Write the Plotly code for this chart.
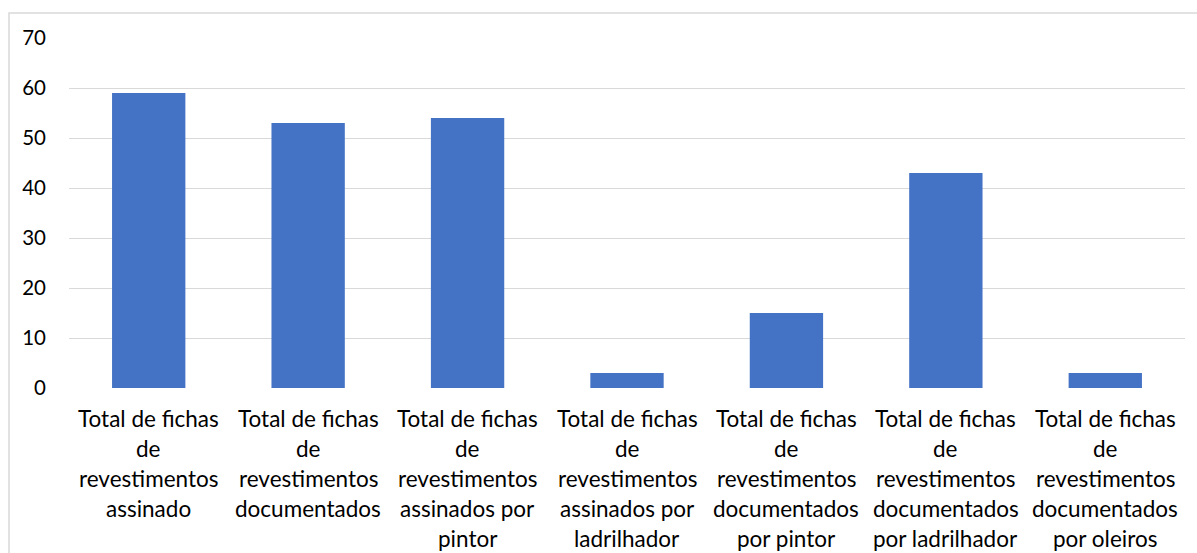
import plotly.graph_objects as go

# Category labels, already broken into the lines shown under each bar
label_lines = [
    ["Total de fichas", "de", "revestimentos", "assinado"],
    ["Total de fichas", "de", "revestimentos", "documentados"],
    ["Total de fichas", "de", "revestimentos", "assinados por", "pintor"],
    ["Total de fichas", "de", "revestimentos", "assinados por", "ladrilhador"],
    ["Total de fichas", "de", "revestimentos", "documentados", "por pintor"],
    ["Total de fichas", "de", "revestimentos", "documentados", "por ladrilhador"],
    ["Total de fichas", "de", "revestimentos", "documentados", "por oleiros"],
]
categories = [" ".join(lines) for lines in label_lines]
values = [59, 53, 54, 3, 15, 43, 3]
y_ticks = [0, 10, 20, 30, 40, 50, 60, 70]

FONT = "Lato, Calibri, Carlito, sans-serif"
W, H = 1197, 553
M_L, M_R, M_T, M_B = 69, 12, 38, 165

fig = go.Figure(
    go.Bar(
        x=categories,
        y=values,
        marker=dict(color="#4472C4", line=dict(width=0)),
        width=0.46,
    )
)

# Multi-line category labels with Office-style line spacing
annotations = []
for cat, lines in zip(categories, label_lines):
    for i, text in enumerate(lines):
        annotations.append(
            dict(
                x=cat, y=0, xref="x", yref="y",
                text=text, showarrow=False,
                yanchor="middle", xanchor="center",
                yshift=-30 - 30 * i,
                font=dict(family=FONT, size=22.5, color="#000000"),
            )
        )

plot_w = W - M_L - M_R
plot_h = H - M_T - M_B

fig.update_layout(
    width=W, height=H,
    margin=dict(l=M_L, r=M_R, t=M_T, b=M_B, pad=0),
    paper_bgcolor="white", plot_bgcolor="white",
    showlegend=False,
    annotations=annotations,
    shapes=[
        # light chart-area frame
        dict(
            type="rect", xref="paper", yref="paper", layer="below",
            x0=(9 - M_L) / plot_w, x1=(W + 20 - M_L) / plot_w,
            y0=-(H + 20 - M_T - plot_h) / plot_h, y1=1 + (M_T - 13) / plot_h,
            line=dict(color="#d9d9d9", width=1.5), fillcolor="rgba(0,0,0,0)",
        )
    ],
)
fig.update_xaxes(
    showticklabels=False, showgrid=False, zeroline=False, showline=False,
    range=[-0.5, len(categories) - 0.5],
)
fig.update_yaxes(
    range=[0, 70], tickvals=y_ticks,
    showgrid=True, gridcolor="#d9d9d9", gridwidth=1.3,
    zeroline=False, showline=False, ticks="",
    ticklabelstandoff=22,
    tickfont=dict(family=FONT, size=20.5, color="#000000"),
)

fig.write_html("out.html")
